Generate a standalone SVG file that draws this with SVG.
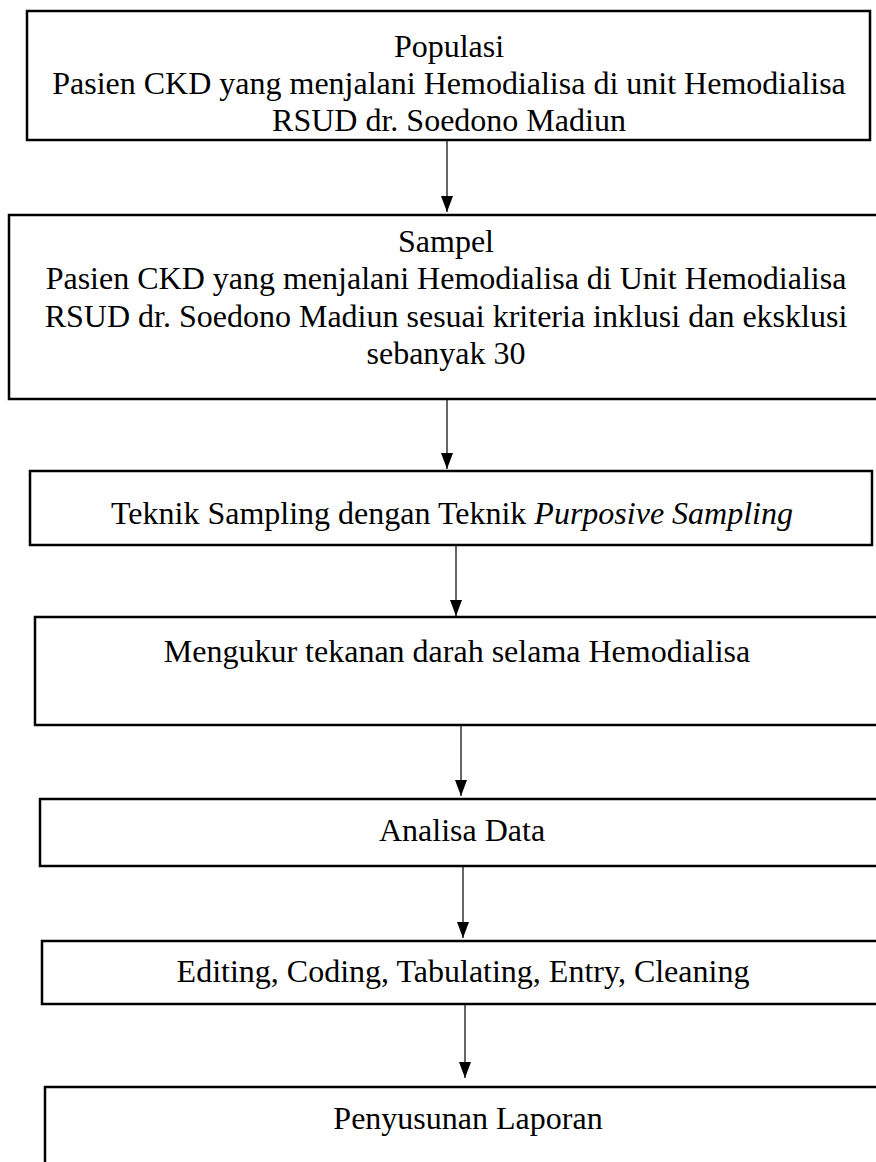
<svg xmlns="http://www.w3.org/2000/svg" width="876" height="1162" viewBox="0 0 876 1162">
<style>
.box{fill:#fff;stroke:#000;stroke-width:2.5}
.t{font-family:"Liberation Serif","Times New Roman",serif;font-size:32px;fill:#000;text-anchor:middle}
.c{stroke:#000;stroke-width:1.2;fill:none}
</style>
<defs>
<marker id="ah" markerWidth="16" markerHeight="12" refX="16" refY="6" orient="auto" markerUnits="userSpaceOnUse" viewBox="0 0 16 12">
<path d="M0,0 L16,6 L0,12 Z" fill="#000"/>
</marker>
</defs>
<g id="n1">
<rect class="box" x="27" y="11" width="843" height="129"/>
<text class="t" x="449" y="57">Populasi</text>
<text class="t" x="449" y="94">Pasien CKD yang menjalani Hemodialisa di unit Hemodialisa</text>
<text class="t" x="449" y="131">RSUD dr. Soedono Madiun</text>
</g>
<g id="n2">
<rect class="box" x="9" y="215" width="890" height="184"/>
<text class="t" x="446" y="252">Sampel</text>
<text class="t" x="446" y="289">Pasien CKD yang menjalani Hemodialisa di Unit Hemodialisa</text>
<text class="t" x="446" y="327">RSUD dr. Soedono Madiun sesuai kriteria inklusi dan eksklusi</text>
<text class="t" x="446" y="364">sebanyak 30</text>
</g>
<g id="n3">
<rect class="box" x="30" y="471" width="842" height="74"/>
<text class="t" x="452" y="524">Teknik Sampling dengan Teknik <tspan font-style="italic">Purposive Sampling</tspan></text>
</g>
<g id="n4">
<rect class="box" x="35" y="617" width="860" height="108"/>
<text class="t" x="457" y="662">Mengukur tekanan darah selama Hemodialisa</text>
</g>
<g id="n5">
<rect class="box" x="40" y="799" width="860" height="67"/>
<text class="t" x="462" y="841">Analisa Data</text>
</g>
<g id="n6">
<rect class="box" x="42" y="941" width="860" height="63"/>
<text class="t" x="463" y="982">Editing, Coding, Tabulating, Entry, Cleaning</text>
</g>
<g id="n7">
<rect class="box" x="45" y="1087" width="860" height="120"/>
<text class="t" x="468" y="1129">Penyusunan Laporan</text>
</g>
<g id="connectors">
<line class="c" x1="447" y1="141" x2="447" y2="212" marker-end="url(#ah)"/>
<line class="c" x1="447" y1="400" x2="447" y2="469" marker-end="url(#ah)"/>
<line class="c" x1="456" y1="546" x2="456" y2="616" marker-end="url(#ah)"/>
<line class="c" x1="461" y1="726" x2="461" y2="796" marker-end="url(#ah)"/>
<line class="c" x1="463" y1="867" x2="463" y2="938" marker-end="url(#ah)"/>
<line class="c" x1="465" y1="1005" x2="465" y2="1078" marker-end="url(#ah)"/>
</g>
</svg>
